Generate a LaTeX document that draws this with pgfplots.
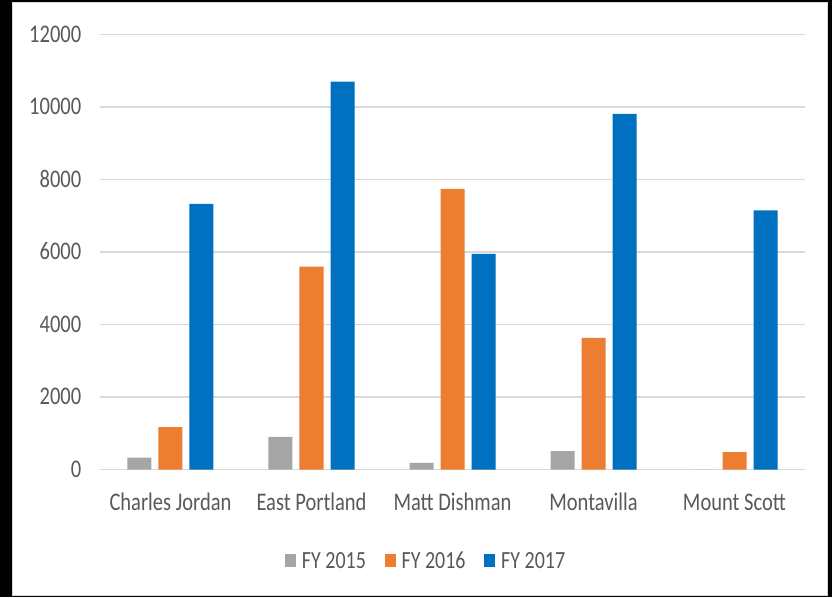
\documentclass[border=0pt]{standalone}
\usepackage{fontspec}
\setmainfont[FakeStretch=0.81]{Carlito}
\usepackage{pgfplots}
\pgfplotsset{compat=1.18}
\definecolor{cgray}{HTML}{A5A5A5}
\definecolor{corange}{HTML}{ED7D31}
\definecolor{cblue}{HTML}{0070C0}
\definecolor{ctext}{HTML}{595959}
\definecolor{cgrid}{HTML}{D9D9D9}
\newcommand\chartfont{\fontsize{19pt}{22pt}\selectfont}
\newcommand\legfont{\fontsize{18.5pt}{22pt}\selectfont}
\begin{document}
\begin{tikzpicture}
\fill[black] (-75pt,-95.625pt) rectangle (549pt,352.125pt);
\useasboundingbox (-75pt,-95.625pt) rectangle (549pt,352.125pt);
\filldraw[fill=white,draw=cgrid,line width=0.75pt] (-65.25pt,-94.125pt) rectangle (545.25pt,349.875pt);
\begin{axis}[
  at={(0pt,0pt)}, anchor=south west,
  scale only axis, width=528.75pt, height=326.25pt,
  xmin=-0.5, xmax=4.5, ymin=0, ymax=12000,
  ybar=5.25pt, bar width=18pt,
  xtick={0,1,2,3,4},
  xticklabels={Charles Jordan, East Portland, Matt Dishman, Montavilla, Mount Scott},
  ytick={0,2000,4000,6000,8000,10000,12000},
  /pgf/number format/assume math mode=true,
  /pgf/number format/1000 sep={},
  scaled y ticks=false,
  axis line style={draw=none},
  major tick length=0pt,
  ymajorgrids, grid style={cgrid, line width=1pt},
  tick label style={font=\chartfont, text=ctext},
  xticklabel style={anchor=base, inner sep=0pt, yshift=-31.1pt},
  yticklabel style={anchor=base east, inner sep=0pt, xshift=-13.9pt, yshift=-5.8pt},
  legend columns=3,
  legend style={draw=none, fill=none, inner sep=0pt, outer sep=0pt,
    at={(0.2624,0)}, anchor=west, yshift=-68.8pt,
    font=\legfont, text=ctext,
    nodes={inner sep=0pt},
    cells={anchor=base west},
    /tikz/every odd column/.append style={column sep=4.5pt},
    /tikz/every even column/.append style={column sep=14pt}},
]
\addplot[fill=cgray, draw=none, legend image code/.code={\fill[cgray] (0pt,1.3pt) rectangle (8.25pt,10.7pt);}]
  coordinates {(0,330) (1,900) (2,180) (3,510) (4,0)};
\addplot[fill=corange, draw=none, legend image code/.code={\fill[corange] (0pt,1.3pt) rectangle (8.25pt,10.7pt);}]
  coordinates {(0,1170) (1,5600) (2,7740) (3,3630) (4,480)};
\addplot[fill=cblue, draw=none, legend image code/.code={\fill[cblue] (0pt,1.3pt) rectangle (8.25pt,10.7pt);}]
  coordinates {(0,7330) (1,10700) (2,5950) (3,9810) (4,7150)};
\legend{FY 2015, FY 2016, FY 2017}
\end{axis}
\end{tikzpicture}
\end{document}
